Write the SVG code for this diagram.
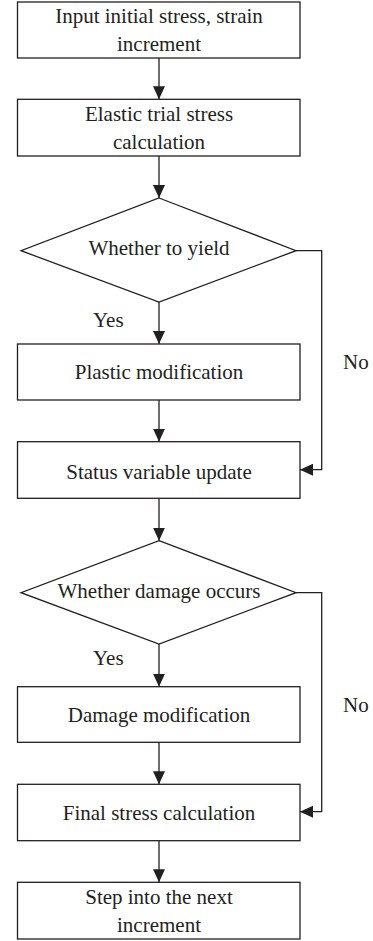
<svg xmlns="http://www.w3.org/2000/svg" width="373" height="941" viewBox="0 0 373 941">
<style>
.box{fill:#fff;stroke:#231f20;stroke-width:1.3}
.t{fill:#231f20;text-anchor:middle}
.l{fill:#231f20}
.c{fill:none;stroke:#231f20;stroke-width:1.3}
</style>
<defs>
<marker id="ah" markerUnits="userSpaceOnUse" markerWidth="13" markerHeight="12" refX="13" refY="6" orient="auto">
<path d="M0,0 L13,6 L0,12 z" fill="#231f20"/>
</marker>
</defs>
<rect width="373" height="941" fill="#fff"/>
<g id="connectors" font-family="Liberation Serif" font-size="21">
<path class="c" d="M159,58 V99.3" marker-end="url(#ah)"/>
<path class="c" d="M159,156 V198" marker-end="url(#ah)"/>
<path class="c" d="M159,302 V344" marker-end="url(#ah)"/>
<path class="c" d="M159,400 V441.7" marker-end="url(#ah)"/>
<path class="c" d="M159,498.3 V540.7" marker-end="url(#ah)"/>
<path class="c" d="M159,644 V686.7" marker-end="url(#ah)"/>
<path class="c" d="M159,742.3 V784.3" marker-end="url(#ah)"/>
<path class="c" d="M159,840.7 V882.3" marker-end="url(#ah)"/>
<path class="c" d="M296,250.7 H321.7 V469.7 H300" marker-end="url(#ah)"/>
<path class="c" d="M296,592.7 H321.7 V811.7 H300" marker-end="url(#ah)"/>
<text class="l" x="93" y="326.7">Yes</text>
<text class="l" x="343" y="369.3">No</text>
<text class="l" x="93" y="665">Yes</text>
<text class="l" x="343" y="711.7">No</text>
</g>
<g font-family="Liberation Serif" font-size="21">
<g id="n1">
<rect class="box" x="17.5" y="2" width="282.5" height="56"/>
<text class="t" x="159" y="22.5">Input initial stress, strain</text>
<text class="t" x="159" y="50.7">increment</text>
</g>
<g id="n2">
<rect class="box" x="17.5" y="99.3" width="282.5" height="56.7"/>
<text class="t" x="159" y="120.7">Elastic trial stress</text>
<text class="t" x="159" y="149">calculation</text>
</g>
<g id="n3">
<polygon class="box" points="159,198 296,250.7 159,302 21,250.7"/>
<text class="t" x="159" y="255">Whether to yield</text>
</g>
<g id="n4">
<rect class="box" x="17.5" y="344" width="282.5" height="56"/>
<text class="t" x="159" y="379.3">Plastic modification</text>
</g>
<g id="n5">
<rect class="box" x="17.5" y="441.7" width="282.5" height="56.6"/>
<text class="t" x="159" y="479">Status variable update</text>
</g>
<g id="n6">
<polygon class="box" points="159,540.7 296,592.7 159,644 21,592.7"/>
<text class="t" x="159" y="598">Whether damage occurs</text>
</g>
<g id="n7">
<rect class="box" x="17.5" y="686.7" width="282.5" height="55.6"/>
<text class="t" x="159" y="721.7">Damage modification</text>
</g>
<g id="n8">
<rect class="box" x="17.5" y="784.3" width="282.5" height="56.4"/>
<text class="t" x="159" y="820">Final stress calculation</text>
</g>
<g id="n9">
<rect class="box" x="17.5" y="882.3" width="282.5" height="56.7"/>
<text class="t" x="159" y="904">Step into the next</text>
<text class="t" x="159" y="932.3">increment</text>
</g>
</g>
</svg>
